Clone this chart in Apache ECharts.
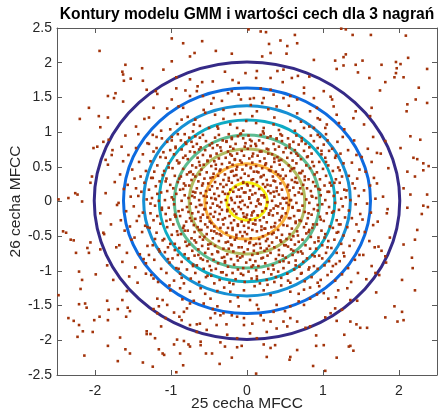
<!DOCTYPE html>
<html>
<head>
<meta charset="utf-8">
<script src="https://cdn.jsdelivr.net/npm/echarts@6/dist/echarts.min.js"></script>
<style>
  html, body { margin: 0; padding: 0; background: #fff; }
  #chart { width: 444px; height: 410px; }
</style>
</head>
<body>
<div id="chart"></div>
<script>
// tick labels
const xTicks = [-2, -1, 0, 1, 2];

// GMM contour levels, outer -> inner (center + radii read in data units)
const contourCenterX = [0, 0, 0, 0, 0, 0, 0, 0];
const contourCenterY = [0.01, 0.01, 0.01, 0.01, 0.0, 0.0, 0.0, 0.0];
const contourRadiusX = [2.01, 1.625, 1.36, 1.155, 0.955, 0.76, 0.555, 0.265];
const contourRadiusY = [2.0, 1.625, 1.37, 1.165, 0.96, 0.755, 0.545, 0.27];
const contourColors = ['#352a87', '#0d6be0', '#1690d4', '#0eabc4', '#5cbc91', '#b0bc62', '#fab23c', '#f6f00c'];

// feature values (x = 25th MFCC, y = 26th MFCC), flat x,y pairs
const pointsTop = [
-1.94,2.17,-0.99,2.35,-0.84,2.28,-0.59,2.31,-0.69,2.14,-0.75,2.09,-0.41,2.17,-0.20,2.13,0.02,2.48,0.18,2.45,0.25,2.44,0.31,2.14,0.20,2.09,0.29,2.27,0.44,2.32,0.53,2.24,0.66,2.28,0.63,2.40,0.52,2.13,1.24,2.49,1.30,2.48,1.39,2.40,1.63,2.40,2.09,2.39,1.30,2.12,1.27,2.08,1.16,2.03,0.88,2.04,1.52,2.03,1.77,1.97,1.96,2.01,2.02,1.98,2.12,2.07,1.97,1.92,1.96,1.85,1.94,1.79,2.06,1.79,2.37,1.91,2.26,1.64,2.22,1.47,2.37,1.42,2.11,1.40,2.10,1.30,1.75,1.60,1.82,1.72,1.61,1.78,1.46,1.86,1.43,1.97,1.27,1.96,1.18,1.91,1.64,1.35,1.62,1.23,1.54,1.11,1.43,1.30,1.40,1.20,1.28,1.04,1.21,1.13,1.10,1.51,1.12,1.47,1.01,1.59,0.75,1.64,0.75,1.56,0.88,1.49,0.92,1.35,0.82,1.80,0.67,1.81,0.59,1.78,0.48,1.90,0.40,1.88,0.31,1.78,0.13,1.88,0.12,1.78,-0.02,1.85,-0.11,1.71,-0.19,1.75,-0.29,1.87,-0.45,1.73,-0.59,1.72,-0.75,1.76,-0.93,1.79,-0.93,1.63,-1.10,1.90,-0.99,2.02,-1.60,1.97,-1.64,1.87,-1.63,1.83,-1.62,1.74,-1.53,1.77,-1.38,1.92,-1.37,1.74,-1.32,1.61,-1.20,1.59,-1.18,1.55,-1.83,1.52,-1.73,1.56,-1.75,1.49,-1.63,1.44,-2.08,1.35,-1.95,1.23,-1.83,1.21,-2.20,1.19,-1.93,1.07,-1.46,1.08,-1.35,1.19,-1.29,1.21,-1.23,1.35,-0.99,1.47,-0.81,1.60,-0.75,1.52,-0.90,1.37,-0.84,1.35,-0.66,1.59,-0.58,1.52,-0.44,1.49,-0.33,1.45,-0.20,1.59,-0.11,1.54,0.04,1.48,0.09,1.49,0.22,1.49,0.20,1.42,0.31,1.61,0.35,1.54,0.48,1.49,0.57,1.52,0.66,1.47,0.39,1.37,0.13,1.30,-0.09,1.27,-0.31,1.32,-0.42,1.25,-0.57,1.32,-0.68,1.18,-0.70,1.11,-0.86,1.18,-1.01,1.04,0.66,1.27,0.83,1.30,0.96,1.18,0.88,1.06,0.57,1.16,0.35,1.11,0.22,1.06,-0.13,1.06,-0.22,1.11,-0.39,1.08,-0.50,1.06,-0.01,1.16,0.07,1.23,0.75,1.06,1.03,1.06,1.14,1.37,
-0.05,1.02,0.12,1.13,-0.31,1.19,0.42,1.03,-0.62,1.09,0.71,1.15,-0.16,1.26,0.28,1.33,-0.47,1.41,0.55,1.38,-0.78,1.22,0.93,1.20,0.05,1.39,-0.25,1.56,0.18,1.63,-0.92,1.12,1.05,1.11,-0.55,1.28,0.36,1.21,-0.08,1.47,0.63,1.02,-0.38,1.05,0.21,1.01,-0.71,1.01,0.82,1.08,-1.13,1.02,1.18,1.25,0.47,1.72,-0.65,1.66,-1.05,1.34
];

const pointsBottom = [
-2.48,-1.35,-2.19,-1.26,-2.21,-1.48,-2.11,-1.53,-2.13,-1.47,-2.35,-1.68,-2.28,-1.72,-2.21,-1.78,-2.16,-1.87,-2.23,-1.95,-2.03,-1.88,-2.01,-1.71,-1.94,-1.66,-1.84,-1.43,-1.82,-1.56,-1.83,-1.71,-1.70,-1.55,-1.64,-1.42,-1.58,-1.29,-1.57,-1.53,-1.59,-1.66,-1.54,-1.58,-1.67,-1.96,-1.83,-2.08,-1.60,-2.13,-1.54,-2.19,-1.70,-2.30,-2.14,-2.22,-1.37,-2.32,-1.24,-2.38,-1.32,-1.87,-1.27,-1.91,-1.32,-1.91,-1.21,-1.97,-1.16,-2.13,-1.11,-2.19,-1.09,-2.21,-0.88,-2.19,-0.93,-2.46,-0.84,-2.36,-0.96,-2.06,-0.92,-1.99,-0.83,-2.01,-0.77,-2.06,-0.75,-2.09,-0.61,-2.02,-0.61,-2.07,-0.54,-2.19,-0.46,-2.19,-0.36,-2.34,-0.35,-2.03,-0.29,-2.09,-0.20,-2.25,-0.13,-2.10,-0.07,-2.08,0.12,-2.48,0.22,-2.06,0.31,-2.11,0.26,-2.24,0.37,-2.07,0.57,-2.24,0.56,-2.28,0.66,-2.14,0.87,-2.37,0.91,-2.08,1.01,-2.07,1.18,-2.25,1.03,-2.44,1.34,-2.09,1.36,-2.08,1.40,-2.15,1.28,-1.92,1.49,-1.82,1.58,-1.82,1.44,-1.77,1.36,-1.73,1.18,-1.72,0.91,-1.93,0.83,-1.80,0.77,-1.82,1.03,-1.67,1.10,-1.61,1.16,-1.54,1.25,-1.56,1.36,-1.42,1.45,-1.43,1.32,-1.25,1.20,-1.28,1.70,-1.31,1.82,-1.67,1.94,-1.51,1.98,-1.73,2.06,-1.71,2.04,-1.59,2.21,-1.28,
-1.18,-1.40,-1.16,-1.51,-1.11,-1.42,-1.23,-1.55,-1.18,-1.61,-1.13,-1.80,-1.07,-1.68,-0.96,-1.60,-0.89,-1.66,-0.86,-1.71,-0.83,-1.59,-0.79,-1.54,-0.75,-1.47,-0.70,-1.43,-0.66,-1.77,-0.62,-1.76,-0.48,-1.68,-0.42,-1.61,-0.35,-1.64,-0.31,-1.61,-0.20,-1.64,-0.13,-1.66,-0.04,-1.68,-0.40,-1.78,-0.27,-1.77,-0.04,-1.78,0.07,-1.76,0.22,-1.71,0.31,-1.73,0.48,-1.73,0.57,-1.68,0.66,-1.73,0.53,-1.80,0.39,-1.83,0.26,-1.88,0.04,-1.90,0.13,-1.97,-0.13,-1.97,-0.26,-1.92,-0.53,-1.85,-0.66,-1.88,-0.75,-1.78,0.18,-1.64,0.35,-1.59,0.39,-1.49,0.57,-1.51,0.68,-1.44,0.75,-1.49,0.83,-1.40,0.92,-1.34,1.01,-1.32,1.07,-1.40,1.17,-1.38,0.75,-1.27,0.83,-1.24,0.57,-1.30,0.22,-1.28,-0.04,-1.28,-0.22,-1.30,-0.39,-1.29,-0.61,-1.25,-0.75,-1.30,-0.88,-1.25,-1.01,-1.28,-1.05,-1.49,-0.48,-1.40,-0.57,-1.47,-0.22,-1.44,0.04,-1.42,0.13,-1.49,-0.11,-1.51,-0.39,-1.51,
0.10,-1.22,-0.30,-1.24,0.45,-1.21,-0.55,-1.33,0.31,-1.35,-0.12,-1.38,0.68,-1.33,-0.85,-1.41,0.95,-1.22,-1.02,-1.21,0.15,-1.55,-0.45,-1.55,0.50,-1.58
];

const pointsSides = [
-2.02,0.77,-1.97,0.79,-2.04,0.36,-2.06,0.27,-2.26,0.12,-2.23,0.10,-2.35,0.05,-2.17,0.00,-2.42,-0.43,-2.38,-0.45,-2.32,-0.55,-2.28,-0.56,-2.10,-0.67,-2.06,-0.59,-2.25,-0.74,-2.08,-0.74,-2.21,-1.01,-2.17,-1.13,-1.99,-1.05,-2.48,0.03,-1.93,-0.17,-1.89,-0.45,-1.93,-0.69,-1.86,0.60,-1.82,0.89,-1.78,0.67,
2.19,0.63,2.24,0.61,2.32,0.55,2.39,0.51,2.32,0.45,2.11,0.43,2.21,0.36,2.37,0.10,2.32,-0.06,2.38,-0.08,2.30,-0.18,2.11,-0.09,2.06,0.19,2.15,0.10,2.24,-0.41,2.21,-0.55,2.17,-0.81,2.18,-0.96,2.06,-0.62,2.04,-1.13,2.28,0.89,2.15,0.94,2.02,0.77,1.71,0.70,1.84,-0.17,1.73,-0.65,1.82,-0.79,1.69,-1.03
];

const pointsCenter = [
-1.76,-1.13,-1.84,-0.92,-1.72,-0.66,-1.88,-0.47,-1.79,-0.33,-1.71,-0.05,-1.86,0.12,-1.74,0.28,-1.83,0.53,-1.77,0.74,-1.89,0.86,
-1.55,-1.08,-1.64,-0.87,-1.58,-0.74,-1.68,-0.63,-1.52,-0.55,-1.61,-0.42,-1.66,-0.27,-1.54,-0.36,-1.59,-0.14,-1.69,-0.02,-1.53,0.07,-1.62,0.18,-1.57,0.24,-1.67,0.39,-1.51,0.46,-1.63,0.58,-1.56,0.67,-1.65,0.79,-1.60,0.95,
-1.44,-1.17,-1.33,-1.04,-1.47,-0.95,-1.36,-0.83,-1.41,-0.76,-1.31,-0.64,-1.48,-0.52,-1.38,-0.44,-1.34,-0.35,-1.45,-0.28,-1.42,-0.21,-1.37,-0.16,-1.49,-0.07,-1.32,0.03,-1.43,0.08,-1.39,0.14,-1.46,0.19,-1.35,0.27,-1.40,0.36,-1.48,0.33,-1.33,0.44,-1.42,0.57,-1.37,0.68,-1.46,0.77,-1.31,0.84,-1.43,0.97,
-1.17,-1.16,-1.26,-1.06,-1.13,-0.97,-1.22,-0.84,-1.29,-0.77,-1.15,-0.72,-1.24,-0.63,-1.11,-0.56,-1.19,-0.45,-1.28,-0.38,-1.14,-0.32,-1.23,-0.27,-1.18,-0.21,-1.27,-0.17,-1.12,-0.12,-1.21,-0.06,-1.16,0.01,-1.25,0.05,-1.13,0.13,-1.29,0.17,-1.20,0.22,-1.15,0.29,-1.26,0.34,-1.11,0.38,-1.22,0.43,-1.18,0.52,-1.27,0.58,-1.14,0.64,-1.23,0.72,-1.19,0.77,-1.29,0.83,-1.12,0.91,-1.24,0.96,
-0.96,-1.14,-1.06,-1.03,-0.93,-0.96,-1.02,-0.88,-0.98,-0.82,-0.91,-0.77,-1.08,-0.73,-1.04,-0.66,-0.95,-0.61,-1.09,-0.54,-0.99,-0.48,-0.92,-0.43,-1.05,-0.37,-0.97,-0.33,-1.01,-0.26,-0.94,-0.22,-1.07,-0.18,-0.90,-0.14,-1.03,-0.09,-0.96,-0.04,-1.08,0.02,-0.99,0.06,-0.93,0.11,-1.05,0.15,-0.97,0.19,-1.01,0.24,-0.91,0.28,-1.06,0.33,-0.95,0.37,-1.09,0.44,-0.98,0.48,-1.03,0.55,-0.92,0.59,-1.07,0.63,-0.96,0.68,-1.01,0.74,-0.94,0.79,-1.05,0.86,-0.99,0.93,-0.91,0.97,
-0.83,-1.18,-0.74,-1.11,-0.88,-1.04,-0.79,-0.98,-0.71,-0.93,-0.86,-0.87,-0.77,-0.82,-0.82,-0.76,-0.72,-0.71,-0.89,-0.67,-0.76,-0.62,-0.81,-0.58,-0.73,-0.53,-0.87,-0.47,-0.78,-0.42,-0.84,-0.38,-0.70,-0.34,-0.80,-0.29,-0.75,-0.24,-0.88,-0.21,-0.72,-0.17,-0.85,-0.12,-0.79,-0.08,-0.74,-0.03,-0.86,0.01,-0.77,0.05,-0.82,0.09,-0.71,0.14,-0.88,0.17,-0.76,0.23,-0.83,0.26,-0.73,0.31,-0.87,0.36,-0.79,0.39,-0.74,0.43,-0.84,0.47,-0.72,0.52,-0.89,0.56,-0.78,0.61,-0.81,0.66,-0.75,0.72,-0.86,0.75,-0.71,0.79,-0.80,0.83,-0.87,0.88,-0.76,0.92,-0.82,0.97,-0.73,0.86,
-0.63,-1.16,-0.54,-1.09,-0.68,-1.03,-0.57,-0.97,-0.66,-0.92,-0.52,-0.86,-0.61,-0.82,-0.69,-0.78,-0.55,-0.74,-0.64,-0.69,-0.59,-0.64,-0.51,-0.62,-0.67,-0.59,-0.58,-0.55,-0.62,-0.51,-0.53,-0.47,-0.69,-0.44,-0.60,-0.41,-0.65,-0.37,-0.55,-0.33,-0.61,-0.28,-0.68,-0.25,-0.52,-0.23,-0.58,-0.19,-0.64,-0.15,-0.56,-0.11,-0.67,-0.08,-0.60,-0.05,-0.53,-0.02,-0.63,0.02,-0.69,0.06,-0.57,0.08,-0.61,0.12,-0.54,0.15,-0.66,0.19,-0.59,0.23,-0.51,0.26,-0.64,0.29,-0.56,0.33,-0.68,0.36,-0.62,0.39,-0.53,0.42,-0.60,0.46,-0.67,0.49,-0.57,0.53,-0.63,0.57,-0.52,0.59,-0.65,0.63,-0.58,0.67,-0.69,0.71,-0.55,0.74,-0.61,0.78,-0.66,0.83,-0.54,0.87,-0.62,0.92,-0.58,0.96,
-0.43,-1.18,-0.36,-1.13,-0.47,-1.07,-0.32,-1.02,-0.41,-0.97,-0.49,-0.93,-0.38,-0.89,-0.44,-0.84,-0.33,-0.81,-0.46,-0.76,-0.39,-0.72,-0.31,-0.68,-0.42,-0.64,-0.48,-0.61,-0.37,-0.57,-0.45,-0.53,-0.34,-0.49,-0.40,-0.46,-0.47,-0.42,-0.35,-0.38,-0.43,-0.36,-0.31,-0.33,-0.49,-0.29,-0.38,-0.26,-0.44,-0.22,-0.36,-0.18,-0.42,-0.15,-0.33,-0.12,-0.48,-0.09,-0.39,-0.06,-0.45,-0.03,-0.34,-0.01,-0.41,0.03,-0.47,0.05,-0.37,0.08,-0.43,0.11,-0.32,0.14,-0.49,0.17,-0.39,0.19,-0.46,0.22,-0.35,0.25,-0.42,0.28,-0.31,0.31,-0.48,0.34,-0.38,0.37,-0.44,0.40,-0.36,0.44,-0.41,0.47,-0.47,0.51,-0.33,0.54,-0.43,0.58,-0.37,0.62,-0.48,0.65,-0.40,0.69,-0.34,0.73,-0.45,0.77,-0.39,0.81,-0.46,0.84,-0.32,0.88,-0.42,0.92,-0.37,0.96,
-0.23,-1.17,-0.15,-1.12,-0.27,-1.06,-0.19,-1.03,-0.12,-0.98,-0.25,-0.94,-0.17,-0.91,-0.29,-0.86,-0.21,-0.83,-0.13,-0.79,-0.26,-0.76,-0.18,-0.72,-0.24,-0.68,-0.11,-0.66,-0.20,-0.63,-0.28,-0.59,-0.16,-0.55,-0.22,-0.52,-0.14,-0.48,-0.27,-0.45,-0.19,-0.41,-0.25,-0.38,-0.12,-0.35,-0.21,-0.31,-0.17,-0.27,-0.29,-0.24,-0.23,-0.21,-0.14,-0.18,-0.26,-0.14,-0.19,-0.11,-0.11,-0.08,-0.24,-0.05,-0.16,-0.02,-0.28,0.02,-0.21,0.05,-0.13,0.07,-0.25,0.11,-0.18,0.14,-0.22,0.17,-0.15,0.21,-0.27,0.24,-0.20,0.27,-0.12,0.31,-0.24,0.34,-0.17,0.37,-0.29,0.39,-0.21,0.43,-0.14,0.46,-0.26,0.49,-0.19,0.53,-0.23,0.56,-0.16,0.60,-0.28,0.63,-0.20,0.66,-0.13,0.69,-0.25,0.72,-0.18,0.76,-0.22,0.79,-0.15,0.83,-0.27,0.87,-0.20,0.90,-0.12,0.94,-0.24,0.97,
-0.03,-1.16,0.06,-1.11,-0.08,-1.04,0.02,-1.01,-0.05,-0.96,0.08,-0.92,-0.01,-0.88,0.04,-0.84,-0.09,-0.81,0.07,-0.77,-0.04,-0.73,0.01,-0.69,-0.07,-0.66,0.09,-0.63,0.03,-0.60,-0.02,-0.57,0.05,-0.53,-0.06,-0.50,0.00,-0.47,-0.09,-0.44,0.07,-0.41,0.02,-0.38,-0.04,-0.35,0.08,-0.32,-0.07,-0.29,0.04,-0.26,-0.01,-0.23,0.06,-0.20,-0.05,-0.17,0.09,-0.14,-0.08,-0.11,0.01,-0.08,-0.03,-0.05,0.05,-0.02,-0.06,0.01,0.03,0.04,-0.09,0.07,0.07,0.10,-0.02,0.13,0.04,0.16,-0.07,0.19,0.08,0.22,0.00,0.25,-0.05,0.28,0.06,0.31,-0.08,0.34,0.02,0.37,-0.03,0.40,0.09,0.43,-0.06,0.46,0.05,0.49,-0.01,0.52,0.07,0.56,-0.09,0.59,0.03,0.62,-0.04,0.66,0.08,0.69,-0.07,0.73,0.01,0.76,0.05,0.80,-0.02,0.84,0.06,0.87,-0.05,0.91,0.02,0.95,-0.08,0.98,
0.17,-1.18,0.26,-1.13,0.13,-1.08,0.22,-1.02,0.28,-0.97,0.15,-0.93,0.24,-0.89,0.11,-0.86,0.19,-0.82,0.27,-0.78,0.14,-0.75,0.23,-0.71,0.18,-0.67,0.29,-0.64,0.12,-0.61,0.25,-0.57,0.16,-0.54,0.21,-0.50,0.28,-0.46,0.13,-0.43,0.24,-0.39,0.19,-0.36,0.11,-0.33,0.26,-0.30,0.17,-0.27,0.22,-0.23,0.14,-0.20,0.29,-0.17,0.20,-0.14,0.25,-0.10,0.12,-0.07,0.18,-0.04,0.27,-0.01,0.15,0.03,0.23,0.06,0.19,0.09,0.11,0.12,0.28,0.15,0.16,0.18,0.24,0.21,0.21,0.25,0.13,0.28,0.26,0.31,0.18,0.35,0.22,0.38,0.15,0.42,0.29,0.45,0.20,0.48,0.12,0.51,0.25,0.55,0.17,0.58,0.23,0.62,0.14,0.66,0.28,0.69,0.19,0.72,0.26,0.76,0.12,0.80,0.21,0.84,0.16,0.88,0.27,0.92,0.18,0.96,
0.36,-1.16,0.45,-1.10,0.32,-1.05,0.41,-1.01,0.48,-0.96,0.34,-0.92,0.43,-0.87,0.38,-0.83,0.47,-0.78,0.31,-0.74,0.42,-0.70,0.36,-0.66,0.49,-0.63,0.33,-0.59,0.44,-0.56,0.39,-0.52,0.46,-0.48,0.35,-0.45,0.41,-0.41,0.32,-0.37,0.48,-0.34,0.37,-0.31,0.43,-0.27,0.45,-0.23,0.34,-0.20,0.40,-0.17,0.31,-0.13,0.47,-0.10,0.38,-0.06,0.44,-0.03,0.33,0.01,0.49,0.04,0.36,0.07,0.42,0.10,0.35,0.14,0.46,0.17,0.39,0.20,0.31,0.23,0.44,0.26,0.37,0.29,0.48,0.33,0.34,0.36,0.41,0.39,0.38,0.43,0.47,0.46,0.32,0.50,0.43,0.53,0.36,0.57,0.45,0.60,0.40,0.64,0.33,0.68,0.48,0.71,0.37,0.75,0.42,0.79,0.35,0.83,0.46,0.87,0.39,0.90,0.31,0.94,0.44,0.97,
0.57,-1.17,0.66,-1.11,0.53,-1.04,0.62,-0.98,0.69,-0.94,0.55,-0.88,0.64,-0.85,0.51,-0.81,0.60,-0.77,0.67,-0.73,0.58,-0.69,0.54,-0.65,0.63,-0.62,0.68,-0.58,0.52,-0.54,0.61,-0.50,0.56,-0.47,0.66,-0.43,0.59,-0.39,0.53,-0.35,0.64,-0.31,0.69,-0.27,0.57,-0.24,0.62,-0.21,0.51,-0.17,0.67,-0.13,0.60,-0.09,0.55,-0.05,0.65,-0.02,0.58,0.02,0.52,0.05,0.63,0.09,0.68,0.13,0.56,0.16,0.61,0.20,0.54,0.24,0.66,0.27,0.59,0.31,0.64,0.34,0.51,0.37,0.69,0.41,0.57,0.44,0.62,0.48,0.55,0.52,0.65,0.55,0.60,0.59,0.53,0.63,0.67,0.66,0.58,0.70,0.63,0.74,0.56,0.78,0.68,0.82,0.61,0.86,0.54,0.91,0.65,0.95,
0.76,-1.15,0.85,-1.09,0.72,-1.03,0.81,-0.98,0.88,-0.93,0.74,-0.87,0.79,-0.82,0.86,-0.77,0.71,-0.72,0.83,-0.68,0.77,-0.63,0.89,-0.59,0.73,-0.55,0.84,-0.51,0.78,-0.46,0.82,-0.41,0.75,-0.37,0.87,-0.33,0.71,-0.28,0.80,-0.24,0.85,-0.19,0.76,-0.15,0.88,-0.11,0.73,-0.06,0.82,-0.02,0.78,0.03,0.86,0.07,0.72,0.11,0.84,0.15,0.79,0.19,0.74,0.24,0.87,0.28,0.81,0.32,0.76,0.36,0.89,0.39,0.73,0.44,0.83,0.48,0.78,0.52,0.86,0.57,0.71,0.61,0.80,0.65,0.85,0.69,0.75,0.73,0.82,0.78,0.77,0.83,0.88,0.87,0.72,0.91,0.84,0.95,
0.97,-1.13,1.06,-1.06,0.93,-0.97,1.02,-0.92,1.08,-0.86,0.95,-0.78,1.04,-0.74,0.91,-0.68,0.99,-0.63,1.07,-0.57,0.94,-0.52,1.03,-0.47,0.98,-0.42,1.09,-0.36,0.92,-0.33,1.01,-0.28,0.96,-0.22,1.05,-0.17,0.93,-0.13,1.08,-0.08,0.99,-0.04,1.03,0.02,0.91,0.05,0.97,0.09,1.06,0.14,0.94,0.18,1.02,0.23,1.09,0.27,0.96,0.32,1.04,0.37,0.92,0.42,1.00,0.47,1.07,0.52,0.95,0.57,1.03,0.63,0.98,0.68,1.08,0.73,0.93,0.77,1.01,0.82,1.06,0.88,0.96,0.93,1.04,0.97,
1.16,-1.14,1.25,-1.05,1.13,-0.93,1.22,-0.86,1.28,-0.79,1.18,-0.74,1.11,-0.67,1.24,-0.61,1.15,-0.55,1.27,-0.49,1.20,-0.44,1.13,-0.38,1.23,-0.33,1.18,-0.27,1.29,-0.23,1.12,-0.16,1.21,-0.12,1.26,-0.07,1.16,-0.02,1.24,0.04,1.14,0.08,1.19,0.13,1.28,0.17,1.11,0.23,1.22,0.27,1.17,0.32,1.25,0.36,1.13,0.44,1.20,0.49,1.27,0.55,1.16,0.63,1.23,0.69,1.12,0.76,1.19,0.86,1.26,0.93,
1.37,-1.16,1.46,-1.03,1.33,-0.96,1.42,-0.84,1.48,-0.77,1.35,-0.64,1.41,-0.56,1.47,-0.43,1.32,-0.37,1.44,-0.33,1.38,-0.24,1.49,-0.18,1.34,-0.13,1.43,-0.04,1.36,0.02,1.47,0.08,1.31,0.16,1.42,0.19,1.39,0.26,1.45,0.33,1.34,0.37,1.48,0.46,1.38,0.56,1.44,0.67,1.33,0.74,1.41,0.88,
1.57,-1.12,1.64,-0.93,1.53,-0.77,1.68,-0.66,1.61,-0.57,1.55,-0.44,1.66,-0.34,1.52,-0.26,1.63,-0.16,1.58,-0.03,1.69,0.04,1.54,0.16,1.62,0.23,1.67,0.34,1.56,0.43,1.64,0.57,1.51,0.64,1.59,0.76,1.66,0.93,
1.74,-1.06,1.83,-0.88,1.77,-0.71,1.88,-0.52,1.72,-0.29,1.85,-0.11,1.79,0.07,1.71,0.26,1.86,0.48,1.76,0.69,1.82,0.87
];

// second pass over the dense core, read row by row
const pointsCore = [
-0.52,-1.07,0.13,-1.12,0.71,-1.04,-0.18,-1.19,0.38,-1.09,-0.86,-1.10,1.11,-1.01,-0.05,-1.06,0.54,-1.14,-1.23,-1.11,0.93,-1.17,-0.34,-1.02,0.27,-1.20,
-0.71,-0.91,0.06,-0.94,0.48,-0.86,-0.29,-0.88,0.82,-0.95,-1.04,-0.83,0.21,-0.81,-0.47,-0.99,1.17,-0.90,-0.12,-0.85,0.64,-0.92,-0.90,-0.97,0.35,-0.98,-1.33,-0.89,0.99,-0.82,-0.58,-0.84,0.12,-0.99,
-0.38,-0.73,0.26,-0.68,-0.95,-0.70,0.73,-0.75,-0.06,-0.79,0.51,-0.63,-0.64,-0.77,1.06,-0.66,-0.21,-0.62,0.89,-0.79,-1.16,-0.69,0.09,-0.71,-0.79,-0.64,0.42,-0.77,-0.51,-0.68,1.27,-0.74,0.17,-0.61,-0.30,-0.80,0.61,-0.71,-1.01,-0.61,
-0.14,-0.52,0.33,-0.47,-0.69,-0.56,0.81,-0.44,0.04,-0.59,-0.43,-0.43,0.58,-0.55,-0.91,-0.48,1.02,-0.52,-0.25,-0.58,0.19,-0.41,-1.21,-0.54,0.67,-0.49,-0.56,-0.51,0.45,-0.58,-0.03,-0.44,0.94,-0.57,-0.82,-0.42,0.27,-0.54,-0.36,-0.47,1.18,-0.45,-0.63,-0.41,
-0.47,-0.31,0.11,-0.27,-0.83,-0.35,0.55,-0.24,-0.19,-0.38,0.78,-0.32,-1.06,-0.28,0.36,-0.36,-0.04,-0.22,0.97,-0.26,-0.61,-0.23,0.23,-0.39,-0.32,-0.26,1.21,-0.33,0.64,-0.29,-0.94,-0.21,-0.12,-0.33,0.46,-0.21,-1.31,-0.37,0.86,-0.38,-0.52,-0.37,0.02,-0.30,-0.73,-0.28,
-0.26,-0.12,0.41,-0.07,-0.77,-0.15,0.16,-0.03,-0.48,-0.18,0.69,-0.13,-1.12,-0.09,0.07,-0.16,0.93,-0.05,-0.09,-0.01,-0.62,-0.05,0.29,-0.19,1.14,-0.14,-0.36,-0.08,0.52,-0.02,-0.95,-0.19,0.81,-0.17,-0.17,-0.14,0.35,-0.10,-1.27,-0.03,0.60,-0.08,-0.55,-0.11,0.00,-0.19,
-0.42,0.04,0.22,0.09,-0.68,0.13,0.57,0.02,-0.11,0.17,0.85,0.08,-0.97,0.03,0.39,0.15,-0.29,0.11,1.08,0.14,0.03,0.06,-0.84,0.18,0.70,0.19,-0.53,0.07,0.14,0.01,-1.18,0.11,0.47,0.05,-0.20,0.02,0.96,0.17,-0.72,0.08,0.31,0.12,-0.04,0.13,1.30,0.06,
-0.58,0.26,0.08,0.32,-0.31,0.21,0.63,0.28,-0.89,0.33,0.27,0.24,-0.14,0.38,0.90,0.22,-1.07,0.29,0.44,0.37,-0.45,0.35,0.76,0.31,0.01,0.23,-0.71,0.39,1.15,0.27,0.19,0.36,-0.24,0.30,0.53,0.21,-1.24,0.34,-0.05,0.27,0.35,0.30,-0.81,0.23,
-0.35,0.46,0.24,0.53,-0.76,0.42,0.59,0.47,-0.07,0.56,0.88,0.51,-0.52,0.58,0.13,0.43,-1.03,0.49,0.42,0.59,-0.19,0.44,0.71,0.41,-0.62,0.52,1.04,0.57,0.05,0.48,-0.90,0.55,0.31,0.44,-0.41,0.53,1.22,0.45,-0.13,0.50,
-0.48,0.66,0.17,0.72,-0.84,0.63,0.51,0.77,-0.22,0.68,0.79,0.64,-0.03,0.79,-1.10,0.71,0.36,0.62,-0.63,0.75,0.98,0.73,0.07,0.65,-0.35,0.78,0.65,0.69,-0.94,0.77,0.28,0.75,-0.16,0.61,1.17,0.66,
-0.27,0.86,0.39,0.91,-0.68,0.94,0.11,0.83,-0.99,0.88,0.72,0.87,-0.09,0.97,0.56,0.82,-0.49,0.81,0.93,0.96,0.22,0.98,-0.81,0.85,-0.20,0.92,0.04,0.89,0.46,0.95,-1.19,0.93
];

function toPairs(flat) {
  const out = [];
  for (let i = 0; i < flat.length; i += 2) out.push([flat[i], flat[i + 1]]);
  return out;
}

const scatterData = [].concat(
  toPairs(pointsTop), toPairs(pointsBottom), toPairs(pointsSides),
  toPairs(pointsCenter), toPairs(pointsCore)
);
const contourData = contourRadiusX.map((rx, i) => [contourCenterX[i], contourCenterY[i], rx, contourRadiusY[i]]);

const FONT = '"Liberation Sans", Arial, Helvetica, sans-serif';
const AXIS_COLOR = '#5a5a5a';
const TEXT_COLOR = '#262626';

let chart = echarts.init(document.getElementById('chart'), null, { renderer: 'canvas' });

let option = {
  animation: false,
  backgroundColor: '#fff',
  textStyle: { fontFamily: FONT },
  graphic: [
    {
      type: 'text',
      x: 247,
      y: 15,
      style: {
        text: 'Kontury modelu GMM i wartości cech dla 3 nagrań',
        font: 'bold 15.6px ' + FONT,
        fill: '#000',
        textAlign: 'center',
        textVerticalAlign: 'middle',
      },
    },
  ],
  grid: { left: 57, right: 7, top: 28, bottom: 35, containLabel: false, outerBoundsMode: 'none' },
  xAxis: [
    {
      type: 'value',
      min: -2.5,
      max: 2.5,
      position: 'bottom',
      name: '25 cecha MFCC',
      nameLocation: 'middle',
      nameGap: 21,
      nameMoveOverlap: false,
      nameTextStyle: { fontSize: 15.5, color: TEXT_COLOR, fontFamily: FONT },
      axisLine: { show: true, onZero: false, lineStyle: { color: AXIS_COLOR, width: 1 } },
      axisTick: { show: true, inside: true, length: 5, customValues: xTicks, lineStyle: { color: AXIS_COLOR } },
      axisLabel: { show: true, customValues: xTicks, margin: 9, fontSize: 14, color: TEXT_COLOR, fontFamily: FONT },
      splitLine: { show: false },
    },
    {
      type: 'value',
      min: -2.5,
      max: 2.5,
      position: 'top',
      axisLine: { show: true, onZero: false, lineStyle: { color: AXIS_COLOR, width: 1 } },
      axisTick: { show: true, inside: true, length: 5, customValues: xTicks, lineStyle: { color: AXIS_COLOR } },
      axisLabel: { show: false },
      splitLine: { show: false },
    },
  ],
  yAxis: [
    {
      type: 'value',
      min: -2.5,
      max: 2.5,
      interval: 0.5,
      position: 'left',
      name: '26 cecha MFCC',
      nameLocation: 'middle',
      nameGap: 33,
      nameMoveOverlap: false,
      nameTextStyle: { fontSize: 15.5, color: TEXT_COLOR, fontFamily: FONT },
      axisLine: { show: true, onZero: false, lineStyle: { color: AXIS_COLOR, width: 1 } },
      axisTick: { show: true, inside: true, length: 5, lineStyle: { color: AXIS_COLOR } },
      axisLabel: { show: true, margin: 5, fontSize: 14, color: TEXT_COLOR, fontFamily: FONT },
      splitLine: { show: false },
    },
    {
      type: 'value',
      min: -2.5,
      max: 2.5,
      interval: 0.5,
      position: 'right',
      axisLine: { show: true, onZero: false, lineStyle: { color: AXIS_COLOR, width: 1 } },
      axisTick: { show: true, inside: true, length: 5, lineStyle: { color: AXIS_COLOR } },
      axisLabel: { show: false },
      splitLine: { show: false },
    },
  ],
  series: [
    {
      type: 'custom',
      name: 'GMM',
      xAxisIndex: 0,
      yAxisIndex: 0,
      z: 2,
      data: contourData,
      encode: { x: 0, y: 1 },
      renderItem: function (params, api) {
        let c = api.coord([api.value(0), api.value(1)]);
        let s = api.size([api.value(2), api.value(3)]);
        return {
          type: 'ellipse',
          shape: { cx: c[0], cy: c[1], rx: s[0], ry: s[1] },
          style: { fill: 'none', stroke: contourColors[params.dataIndex], lineWidth: 3 },
        };
      },
    },
    {
      type: 'scatter',
      name: 'cechy',
      xAxisIndex: 0,
      yAxisIndex: 0,
      z: 3,
      symbol: 'rect',
      symbolSize: 2.6,
      itemStyle: { color: '#a3340b', opacity: 1 },
      data: scatterData,
    },
  ],
};

chart.setOption(option);
</script>
</body>
</html>
